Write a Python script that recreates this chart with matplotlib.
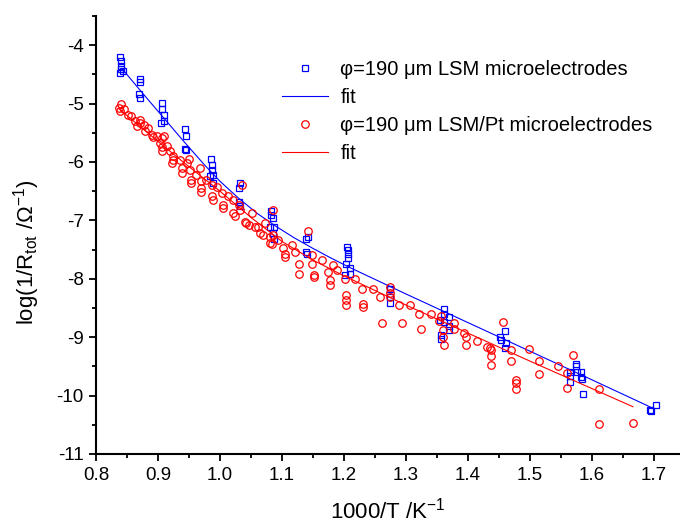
import matplotlib
matplotlib.use('Agg')
import matplotlib.pyplot as plt
from matplotlib.ticker import MultipleLocator
import numpy as np

plt.rcParams['font.family'] = ['Liberation Sans', 'DejaVu Sans']
plt.rcParams['mathtext.fontset'] = 'custom'
plt.rcParams['mathtext.rm'] = 'Liberation Sans'
plt.rcParams['mathtext.it'] = 'Liberation Sans:italic'
plt.rcParams['axes.unicode_minus'] = False

# LSM microelectrodes (blue squares)
blue_x = [0.839, 0.840, 0.840, 0.840, 0.839, 0.843,
          0.871, 0.871, 0.870, 0.871,
          0.906, 0.907, 0.909, 0.905, 0.910,
          0.944, 0.945, 0.944, 0.945,
          0.985, 0.987, 0.987, 0.989, 0.984, 0.989,
          1.032, 1.031, 1.031, 1.032,
          1.083, 1.082, 1.085, 1.081, 1.087, 1.085, 1.087,
          1.139, 1.142, 1.139, 1.141,
          1.205, 1.206, 1.206, 1.207, 1.203, 1.210, 1.202, 1.210,
          1.274, 1.275, 1.275, 1.274,
          1.361, 1.362, 1.355, 1.361, 1.369, 1.369, 1.369, 1.356, 1.356,
          1.452, 1.454, 1.459, 1.461, 1.460,
          1.574, 1.574, 1.565, 1.565, 1.565, 1.576, 1.583, 1.583, 1.584, 1.586,
          1.694, 1.703, 1.696]
blue_y = [-4.21, -4.27, -4.36, -4.41, -4.47, -4.44,
          -4.58, -4.63, -4.84, -4.90,
          -4.99, -5.10, -5.19, -5.33, -5.30,
          -5.44, -5.56, -5.77, -5.80,
          -5.95, -6.05, -6.13, -6.22, -6.24, -6.36,
          -6.36, -6.45, -6.69, -6.76,
          -6.84, -6.91, -6.96, -7.11, -7.12, -7.22, -7.31,
          -7.31, -7.28, -7.54, -7.57,
          -7.45, -7.50, -7.57, -7.65, -7.74, -7.82, -7.94, -7.91,
          -8.18, -8.17, -8.32, -8.41,
          -8.51, -8.60, -8.71, -8.74, -8.65, -8.80, -8.88, -8.97, -9.03,
          -9.00, -9.05, -8.90, -9.10, -9.18,
          -9.46, -9.50, -9.60, -9.67, -9.76, -9.59, -9.60, -9.68, -9.72, -9.98,
          -10.24, -10.16, -10.27]

# LSM/Pt microelectrodes (red circles)
red_x = [0.837, 0.840, 0.839, 0.845, 0.851, 0.857, 0.863, 0.866, 0.871, 0.871,
         0.877, 0.879, 0.884, 0.890, 0.892, 0.898, 0.903, 0.906, 0.909, 0.906,
         0.906, 0.914, 0.919, 0.925, 0.922, 0.925, 0.935, 0.938, 0.938, 0.946,
         0.950, 0.952, 0.954, 0.954, 0.962, 0.968, 0.970, 0.970, 0.970, 0.978,
         0.987, 0.987, 0.989, 0.995, 1.003, 1.005, 1.005, 1.013, 1.021, 1.021,
         1.024, 1.030, 1.035, 1.032, 1.040, 1.042, 1.046, 1.051, 1.056, 1.062,
         1.065, 1.070, 1.073, 1.081, 1.081, 1.084, 1.086, 1.086, 1.094, 1.102,
         1.105, 1.105, 1.116, 1.121, 1.127, 1.127, 1.142, 1.148, 1.148, 1.152,
         1.152, 1.164, 1.175, 1.177, 1.177, 1.183, 1.188, 1.202, 1.204, 1.204,
         1.204, 1.218, 1.229, 1.231, 1.231, 1.246, 1.258, 1.262, 1.274, 1.275,
         1.275, 1.288, 1.293, 1.307, 1.321, 1.325, 1.341, 1.353, 1.356, 1.360,
         1.360, 1.361, 1.377, 1.378, 1.394, 1.397, 1.397, 1.415, 1.430, 1.435,
         1.437, 1.437, 1.437, 1.457, 1.470, 1.470, 1.478, 1.478, 1.478, 1.498,
         1.514, 1.515, 1.545, 1.559, 1.560, 1.570, 1.611, 1.611, 1.666]
red_y = [-5.07, -5.00, -5.12, -5.10, -5.19, -5.22, -5.30, -5.39, -5.28, -5.34,
         -5.36, -5.47, -5.42, -5.53, -5.57, -5.56, -5.67, -5.59, -5.56, -5.82,
         -5.74, -5.73, -5.82, -5.90, -6.02, -5.96, -5.96, -6.10, -6.19, -6.02,
         -5.95, -6.13, -6.30, -6.36, -6.22, -6.10, -6.45, -6.51, -6.33, -6.30,
         -6.39, -6.59, -6.65, -6.42, -6.53, -6.73, -6.78, -6.59, -6.65, -6.88,
         -6.93, -6.73, -6.39, -6.82, -7.02, -7.05, -7.08, -6.88, -7.11, -7.11,
         -7.22, -7.25, -7.04, -7.28, -7.39, -7.41, -6.82, -7.25, -7.34, -7.48,
         -7.57, -7.62, -7.42, -7.54, -7.74, -7.91, -7.19, -7.59, -7.74, -7.94,
         -7.97, -7.68, -7.88, -8.02, -8.11, -7.77, -7.85, -8.00, -8.28, -8.37,
         -8.45, -8.01, -8.17, -8.43, -8.48, -8.17, -8.32, -8.75, -8.14, -8.24,
         -8.32, -8.45, -8.76, -8.45, -8.60, -8.86, -8.61, -8.73, -8.64, -8.88,
         -9.00, -9.14, -8.76, -8.86, -8.93, -9.00, -9.13, -9.06, -9.17, -9.19,
         -9.22, -9.33, -9.47, -8.74, -9.22, -9.40, -9.73, -9.79, -9.89, -9.20,
         -9.40, -9.63, -9.49, -9.61, -9.87, -9.31, -9.88, -10.49, -10.47]

# fit curves
blue_fit_x = [0.845, 0.875, 0.908, 0.941, 0.975, 1.0, 1.03, 1.06, 1.09, 1.12,
              1.15, 1.18, 1.21, 1.25, 1.3, 1.4, 1.5, 1.6, 1.697]
blue_fit_y = [-4.44, -4.82, -5.23, -5.64, -6.05, -6.33, -6.62, -6.88, -7.10, -7.30,
              -7.48, -7.65, -7.81, -8.01, -8.26, -8.75, -9.24, -9.73, -10.21]
red_fit_x = [0.836, 0.87, 0.9, 0.95, 1.0, 1.05, 1.1, 1.15, 1.2, 1.3,
             1.4, 1.5, 1.6, 1.666]
red_fit_y = [-5.08, -5.38, -5.65, -6.08, -6.50, -6.95, -7.36, -7.68, -7.95, -8.45,
             -8.93, -9.41, -9.88, -10.19]

fig = plt.figure(figsize=(6.8, 5.27), dpi=100)
ax = fig.add_axes([96/680, 73/527, 584/680, 438/527])

ax.plot(blue_x, blue_y, 's', ms=4.6, mfc='none', mec='#0000ff', mew=0.9,
        label='\u03c6=190 \u03bcm LSM microelectrodes')
ax.plot(blue_fit_x, blue_fit_y, '-', color='#0000ff', lw=0.8, label='fit')
ax.plot(red_x, red_y, 'o', ms=5.4, mfc='none', mec='#ff0000', mew=0.9,
        label='\u03c6=190 \u03bcm LSM/Pt microelectrodes')
ax.plot(red_fit_x, red_fit_y, '-', color='#ff0000', lw=0.8, label='fit')

ax.set_xlim(0.8, 1.742)
ax.set_ylim(-11, -3.5)
ax.xaxis.set_major_locator(MultipleLocator(0.1))
ax.xaxis.set_minor_locator(MultipleLocator(0.05))
ax.yaxis.set_major_locator(MultipleLocator(1))
ax.yaxis.set_minor_locator(MultipleLocator(0.5))
ax.xaxis.set_major_formatter(plt.FuncFormatter(lambda v, p: f'{v:.1f}'))

for side in ('top', 'right'):
    ax.spines[side].set_visible(False)
for side in ('left', 'bottom'):
    ax.spines[side].set_linewidth(1.5)
ax.tick_params(which='major', direction='out', length=5, width=1.3,
               labelsize=13.5, pad=4)
ax.tick_params(which='minor', direction='out', length=3, width=1.3)

ax.set_xlabel('1000/T /K$^{\u2212 1}$', fontsize=16, labelpad=10)
ax.set_ylabel('log(1/R$_{\\mathregular{tot}}$ /\u03a9$^{\u22121}$)', fontsize=16)
ax.yaxis.set_label_coords(-0.093, 0.46)

ax.legend(loc='upper left', bbox_to_anchor=((282-96)/584, 1-(60-16)/438),
          frameon=False, fontsize=14.5, handlelength=2.3, handletextpad=0.6,
          labelspacing=0.45, borderpad=0, borderaxespad=0)

fig.savefig('out.png', dpi=100)
